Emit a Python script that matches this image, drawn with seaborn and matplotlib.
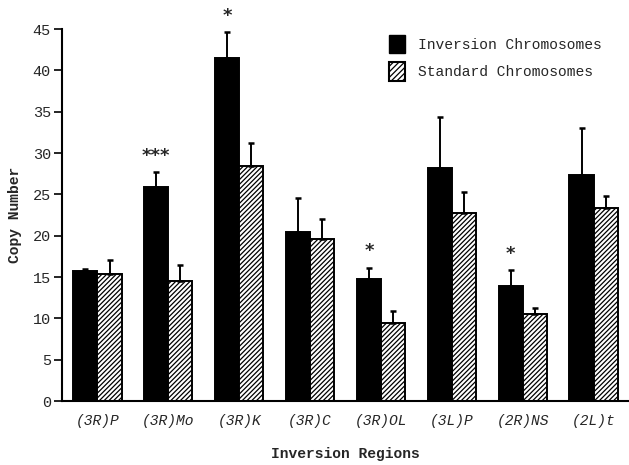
import matplotlib
matplotlib.use("Agg")
import matplotlib.pyplot as plt
import seaborn as sns
import pandas as pd
import numpy as np
from matplotlib.patches import Patch

regions = ["(3R)P", "(3R)Mo", "(3R)K", "(3R)C", "(3R)OL", "(3L)P", "(2R)NS", "(2L)t"]
groups = ["Inversion Chromosomes", "Standard Chromosomes"]
inversion_mean = [15.75, 25.9, 41.5, 20.5, 14.75, 28.2, 13.9, 27.4]
inversion_err = [0.25, 1.8, 3.1, 4.1, 1.35, 6.1, 1.95, 5.6]
standard_mean = [15.4, 14.5, 28.4, 19.55, 9.4, 22.8, 10.55, 23.4]
standard_err = [1.65, 1.9, 2.8, 2.45, 1.5, 2.5, 0.65, 1.4]
stars = ["", "***", "*", "", "*", "", "*", ""]
yticks = [0, 5, 10, 15, 20, 25, 30, 35, 40, 45]

df = pd.DataFrame({
    "region": regions * 2,
    "group": [groups[0]] * len(regions) + [groups[1]] * len(regions),
    "value": inversion_mean + standard_mean,
})

sns.set_style("white")
plt.rcParams["font.family"] = ["Liberation Mono", "DejaVu Sans Mono"]
plt.rcParams["hatch.linewidth"] = 0.9

fig = plt.figure(figsize=(6.29, 4.65), dpi=100)
ax = fig.add_axes([0.0986, 0.1376, 0.9014, 0.8])

sns.barplot(data=df, x="region", y="value", hue="group", order=regions,
            hue_order=groups, palette={groups[0]: "black", groups[1]: "white"},
            width=0.68, errorbar=None, edgecolor="black", linewidth=1.4,
            legend=False, ax=ax)

errs = [inversion_err, standard_err]
means = [inversion_mean, standard_mean]
bar_containers = list(ax.containers)
for ci, cont in enumerate(bar_containers):
    xs = []
    for bar in cont.patches:
        xs.append(bar.get_x() + bar.get_width() / 2)
        if ci == 1:
            bar.set_hatch("///////")
            bar.set_facecolor("white")
            bar.set_edgecolor("black")
    ax.errorbar(xs, means[ci], yerr=[np.zeros(len(xs)), errs[ci]], fmt="none",
                ecolor="black", elinewidth=1.4, capsize=2.5, capthick=1.8, zorder=1)
    if ci == 0:
        for x, m, e, s in zip(xs, means[ci], errs[ci], stars):
            if s:
                ax.text(x, m + e + 0.9, s, ha="center", va="bottom",
                        fontsize=13, fontweight="bold", family="DejaVu Sans")

ax.set_ylim(0, 45)
ax.set_xlim(-0.5, len(regions) - 0.5)
ax.set_yticks(yticks)
ax.set_yticklabels([str(t) for t in yticks], fontsize=11)
ax.set_xticks(range(len(regions)))
ax.set_xticklabels(regions, fontsize=10.5, style="italic")
ax.set_xticks(np.arange(0.5, len(regions) - 0.5, 1), minor=True)
ax.tick_params(axis="x", which="major", length=0, pad=9)
ax.tick_params(axis="x", which="minor", length=6, width=1.3, direction="out", color="black")
ax.tick_params(axis="y", which="major", length=6, width=1.2, direction="out", color="black", pad=2)
ax.tick_params(left=True, bottom=True)
for side in ["top", "right"]:
    ax.spines[side].set_visible(False)
for side in ["left", "bottom"]:
    ax.spines[side].set_color("black")
    ax.spines[side].set_linewidth(1.5)

ax.set_xlabel("Inversion Regions", fontsize=10.5, fontweight="bold", labelpad=14)
ax.set_ylabel("Copy Number", fontsize=10.5, fontweight="bold", labelpad=8)

handles = [Patch(facecolor="black", edgecolor="black", label=groups[0]),
           Patch(facecolor="white", edgecolor="black", hatch="//////", linewidth=1.5, label=groups[1])]
ax.legend(handles=handles, loc="upper right", bbox_to_anchor=(0.975, 1.02),
          frameon=False, fontsize=10.5, handlelength=1.1, handleheight=1.6,
          handletextpad=0.9, labelspacing=0.6)

fig.savefig("out.png", dpi=100)
